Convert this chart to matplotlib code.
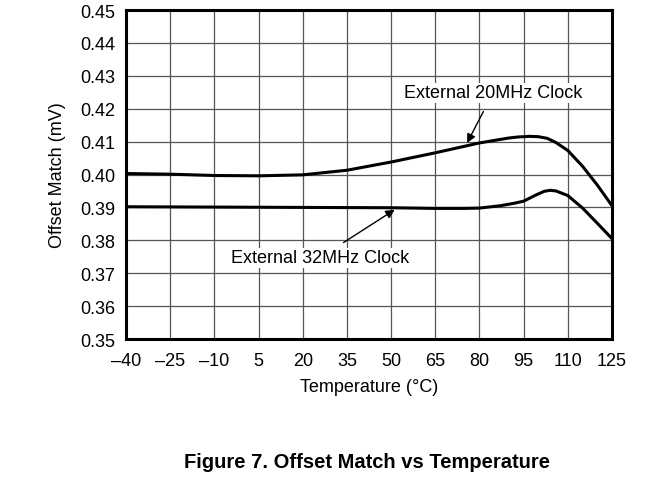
import matplotlib.pyplot as plt

plt.rcParams['font.family'] = ['Liberation Sans', 'DejaVu Sans']

temp_20 = [-40, -25, -10, 5, 20, 35, 50, 65, 80, 90, 93, 97, 100, 103, 106, 110, 115, 120, 125]
match_20 = [0.4003, 0.4001, 0.3997, 0.3996, 0.3999, 0.4013, 0.4038, 0.4066, 0.4096, 0.4111,
            0.4114, 0.4116, 0.4115, 0.4110, 0.4097, 0.4073, 0.4025, 0.3968, 0.3905]

temp_32 = [-40, -10, 20, 50, 65, 75, 80, 87, 92, 95, 99, 102, 104, 106, 110, 115, 120, 125]
match_32 = [0.3902, 0.3901, 0.3900, 0.3899, 0.3897, 0.3897, 0.3898, 0.3905, 0.3913, 0.3919,
            0.3937, 0.3949, 0.3952, 0.3950, 0.3936, 0.3898, 0.3852, 0.3805]

x_ticks = [-40, -25, -10, 5, 20, 35, 50, 65, 80, 95, 110, 125]
x_labels = ['–40', '–25', '–10', '5', '20', '35', '50', '65', '80', '95', '110', '125']
y_ticks = [0.35, 0.36, 0.37, 0.38, 0.39, 0.40, 0.41, 0.42, 0.43, 0.44, 0.45]

fig = plt.figure(figsize=(6.71, 4.81), dpi=100)
ax = fig.add_axes([0.1878, 0.2931, 0.7243, 0.684])

ax.plot(temp_20, match_20, color='black', linewidth=2.2)
ax.plot(temp_32, match_32, color='black', linewidth=2.2)

ax.set_xlim(-40, 125)
ax.set_ylim(0.35, 0.45)
ax.set_xticks(x_ticks)
ax.set_xticklabels(x_labels)
ax.set_yticks(y_ticks)
ax.set_yticklabels(['%.2f' % v for v in y_ticks])
ax.tick_params(length=0, labelsize=13)
ax.tick_params(axis='x', pad=9)
ax.tick_params(axis='y', pad=8)
ax.grid(True, color='#555555', linewidth=0.9)
for s in ax.spines.values():
    s.set_linewidth(2.2)

box = dict(facecolor='white', edgecolor='none', pad=1)
ax.annotate('External 20MHz Clock', xy=(75.8, 0.4096), xytext=(84.6, 0.4248),
            ha='center', va='center', fontsize=13, bbox=box,
            arrowprops=dict(arrowstyle='-|>', color='black', lw=1, shrinkA=7, shrinkB=0))
ax.annotate('External 32MHz Clock', xy=(51.2, 0.3893), xytext=(25.8, 0.3747),
            ha='center', va='center', fontsize=13, bbox=box,
            arrowprops=dict(arrowstyle='-|>', color='black', lw=1, shrinkA=7, shrinkB=0))

ax.set_xlabel('Temperature (°C)', fontsize=13, labelpad=7)
ax.set_ylabel('Offset Match (mV)', fontsize=13, labelpad=10)

fig.text(367 / 671, 1 - 462 / 481, 'Figure 7. Offset Match vs Temperature',
         ha='center', va='center', fontsize=14.5, fontweight='bold')

fig.savefig('out.png', dpi=100)
